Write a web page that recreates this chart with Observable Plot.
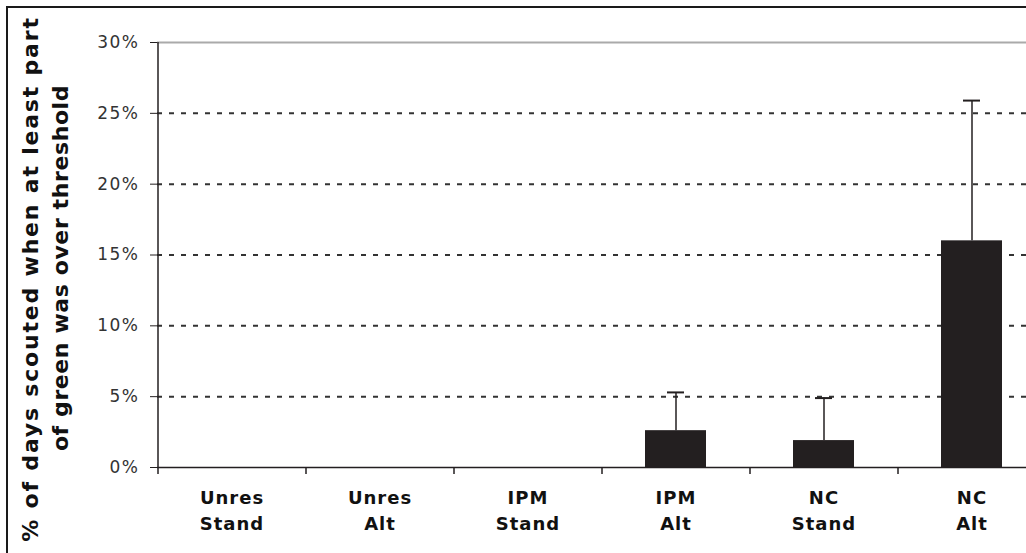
<!DOCTYPE html>
<html>
<head>
<meta charset="utf-8">
<script src="https://cdn.jsdelivr.net/npm/d3@7"></script>
<script src="https://cdn.jsdelivr.net/npm/@observablehq/plot@0.6"></script>
<style>
  html, body { margin: 0; padding: 0; background: #fff; overflow: hidden; }
  #wrap { position: relative; width: 1026px; height: 553px; }
  #frame { position: absolute; left: 6px; top: 6px; width: 2000px; height: 2000px;
           border-left: 2px solid #1a1a1a; border-top: 2px solid #1a1a1a; pointer-events: none; }
  svg { display: block; }
  g[aria-label="y-axis tick label"] text { letter-spacing: 1.5px; }
  g[aria-label="x-axis tick label"] text { letter-spacing: 1px; }
</style>
</head>
<body>
<div id="wrap"><div id="frame"></div></div>
<script>
// ---- data ----
const groups  = ["Unres", "Unres", "IPM", "IPM", "NC", "NC"];
const systems = ["Stand", "Alt", "Stand", "Alt", "Stand", "Alt"];
const values  = [0, 0, 0, 2.6, 1.9, 16.0];      // % of days
const errTops = [0, 0, 0, 5.3, 4.9, 25.9];      // upper error bar end, %
const yTicks  = [0, 5, 10, 15, 20, 25, 30];
const yTitle1 = "% of days scouted when at least part";
const yTitle2 = "of green was over threshold";

const categories = groups.map((g, i) => `${g}\n${systems[i]}`);
const rows = categories.map((c, i) => ({cat: c, value: values[i] / 100, err: errTops[i] / 100}));
const errRows = rows.filter(d => d.err > d.value);

const W = 1026, H = 553;
const left = 157, right = 1045;        // plot extends past the cropped right edge
const step = (right - left) / categories.length;

const chart = Plot.plot({
  width: W, height: H,
  marginTop: 42, marginBottom: 86, marginLeft: left, marginRight: 0,
  style: {fontFamily: "DejaVu Sans, sans-serif", background: "#fff", overflow: "hidden"},
  x: {domain: categories, range: [left, right], paddingInner: 0.59, paddingOuter: 0.295, axis: null},
  y: {domain: [0, 0.30], axis: null},
  marks: [
    Plot.ruleY(yTicks.filter(t => t > 0 && t < 30).map(t => t / 100),
      {stroke: "#333", strokeWidth: 2, strokeDasharray: "5,7"}),
    Plot.ruleY([0.30], {stroke: "#aaa", strokeWidth: 2}),
    Plot.barY(rows, {x: "cat", y: "value", fill: "#231f20"}),
    Plot.ruleX(errRows, {x: "cat", y1: "value", y2: "err", stroke: "#231f20", strokeWidth: 1.5}),
    Plot.tickY(errRows, {x: "cat", y: "err", stroke: "#231f20", strokeWidth: 2, insetLeft: 22, insetRight: 22}),
    Plot.ruleY([0], {stroke: "#231f20", strokeWidth: 1.5}),
    Plot.ruleX([categories[0]], {x: d => d, y1: 0, y2: 0.30, dx: -step / 2, stroke: "#231f20", strokeWidth: 1.5}),
    // y axis
    Plot.axisY({ticks: yTicks.map(t => t / 100), tickSize: 7, tickPadding: 11,
      tickFormat: d => `${Math.round(d * 100)}%`, label: null, fontSize: 17, fill: "#333",
      stroke: "#231f20"}),
    // x boundary ticks
    Plot.axisX({tickSize: 7, dx: -step / 2, tickFormat: () => "", label: null, stroke: "#231f20", strokeWidth: 1.5}),
    // x labels
    Plot.axisX({tickSize: 0, tickPadding: 18, label: null, fontSize: 18, fontWeight: "bold",
      lineHeight: 1.45, fill: "#111"}),
    // y title (two lines)
    Plot.text([yTitle1], {frameAnchor: "left", dx: -127, dy: 24, rotate: -90, textAnchor: "middle",
      fontSize: 22, fontWeight: "bold", fill: "#111", lineAnchor: "middle"}),
    Plot.text([yTitle2], {frameAnchor: "left", dx: -97, dy: 13, rotate: -90, textAnchor: "middle",
      fontSize: 22, fontWeight: "bold", fill: "#111", lineAnchor: "middle"})
  ]
});
// widen the title lines to the reference's spacing
chart.querySelectorAll("text").forEach(t => {
  if (t.textContent === yTitle1) t.style.letterSpacing = "1.8px";
  if (t.textContent === yTitle2) t.style.letterSpacing = "0.6px";
});
document.getElementById("wrap").prepend(chart);
</script>
</body>
</html>
